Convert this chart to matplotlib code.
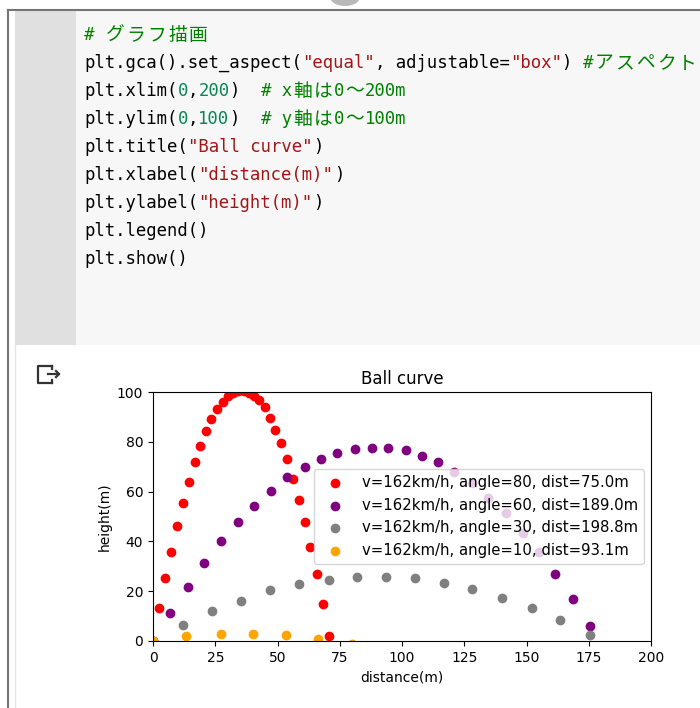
import matplotlib
matplotlib.use("Agg")
import matplotlib.pyplot as plt
from matplotlib.patches import Rectangle, Ellipse
from matplotlib.lines import Line2D

W, H = 700, 708

# --- 打球の軌跡 ---
red_x = [0, 2.5, 4.9, 7.2, 9.6, 12.2, 14.5, 16.8, 19.0, 21.1, 23.4, 25.7, 28.0, 30.0,
         32.1, 34.3, 36.4, 38.6, 40.7, 42.7, 44.9, 47.1, 49.1, 51.5, 53.9, 56.2, 58.6,
         61.0, 63.2, 65.7, 68.2, 70.6]
red_y = [0, 13.1, 25.2, 35.8, 46.0, 55.5, 64.0, 71.7, 78.4, 84.4, 89.1, 93.1, 96.1, 98.3,
         99.6, 100.3, 100.4, 99.6, 98.4, 96.7, 93.8, 89.7, 84.7, 79.6, 73.0, 65.2, 56.6,
         47.9, 37.7, 26.8, 14.9, 1.9]

purple_x = [0, 6.8, 13.9, 20.6, 27.2, 34.0, 40.7, 47.3, 53.9, 61.0, 67.5, 74.0, 81.1,
            87.8, 94.4, 101.6, 108.2, 114.6, 121.0, 128.0, 134.7, 141.6, 148.5, 154.9,
            161.6, 168.8, 175.5]
purple_y = [0, 11.3, 21.5, 31.2, 40.1, 47.9, 54.4, 60.4, 65.7, 69.9, 73.0, 75.5, 77.2,
            77.7, 77.7, 76.6, 74.2, 71.9, 67.9, 63.5, 57.4, 51.6, 43.5, 35.9, 26.9, 16.7, 6.0]

gray_x = [0, 12.2, 23.6, 35.3, 46.9, 58.5, 70.5, 82.0, 93.7, 105.2, 116.9, 128.2, 140.2,
          152.2, 163.6, 175.5]
gray_y = [0, 6.6, 12.0, 16.1, 20.3, 22.7, 24.5, 25.8, 25.7, 25.2, 23.3, 20.8, 17.3, 13.1,
          8.3, 2.3]

orange_x = [0, 13.3, 27.2, 40.0, 53.3, 66.4, 79.8]
orange_y = [0, 1.9, 3.0, 3.0, 2.3, 1.0, -1.2]

labels = ["v=162km/h, angle=80, dist=75.0m",
          "v=162km/h, angle=60, dist=189.0m",
          "v=162km/h, angle=30, dist=198.8m",
          "v=162km/h, angle=10, dist=93.1m"]
colors = ["red", "purple", "gray", "orange"]

# --- ノートブックのコードセル ---
C_TXT = "#000000"
C_STR = "#a31515"
C_NUM = "#098658"
C_COM = "#008000"
code_lines = [
    [("# グラフ描画", C_COM)],
    [("plt.gca().set_aspect(", C_TXT), ('"equal"', C_STR), (", adjustable=", C_TXT),
     ('"box"', C_STR), (") ", C_TXT), ("#アスペクト", C_COM)],
    [("plt.xlim(", C_TXT), ("0", C_NUM), (",", C_TXT), ("200", C_NUM), (")  ", C_TXT),
     ("# x軸は0〜200m", C_COM)],
    [("plt.ylim(", C_TXT), ("0", C_NUM), (",", C_TXT), ("100", C_NUM), (")  ", C_TXT),
     ("# y軸は0〜100m", C_COM)],
    [("plt.title(", C_TXT), ('"Ball curve"', C_STR), (")", C_TXT)],
    [("plt.xlabel(", C_TXT), ('"distance(m)"', C_STR), (")", C_TXT)],
    [("plt.ylabel(", C_TXT), ('"height(m)"', C_STR), (")", C_TXT)],
    [("plt.legend()", C_TXT)],
    [("plt.show()", C_TXT)],
]


def fx(x):
    return x / W


def fy(y):
    return 1 - y / H


fig = plt.figure(figsize=(W / 100, H / 100), dpi=100)
fig.patch.set_facecolor("white")

# 背景 (セル枠, ガター, コード領域)
fig.add_artist(Rectangle((fx(15), fy(345)), fx(61), (335) / H, transform=fig.transFigure,
                         facecolor="#e0e0e0", edgecolor="none"))
fig.add_artist(Rectangle((fx(76), fy(345)), fx(624), (335) / H, transform=fig.transFigure,
                         facecolor="#f7f7f7", edgecolor="none"))
fig.add_artist(Line2D([fx(8), fx(700)], [fy(10), fy(10)], transform=fig.transFigure,
                      color="#757575", lw=1.5))
fig.add_artist(Line2D([fx(8), fx(8)], [fy(10), fy(708)], transform=fig.transFigure,
                      color="#757575", lw=1.5))
fig.add_artist(Line2D([fx(15), fx(15)], [fy(345), fy(708)], transform=fig.transFigure,
                      color="#e6e6e6", lw=1.0))
fig.add_artist(Ellipse((fx(345), fy(-3)), fx(30), 18 / H, transform=fig.transFigure,
                       facecolor="#b8b8b8", edgecolor="none"))

# コード文字列 (等幅の桁に合わせて配置)
X0, Y0, LH, CW = 84, 35, 28, 10.4
for row, parts in enumerate(code_lines):
    y = fy(Y0 + row * LH)
    col = 0
    for txt, color in parts:
        buf, start = "", col
        for ch in txt:
            if ord(ch) < 128:
                if not buf:
                    start = col
                buf += ch
                col += 1
            else:
                if buf:
                    fig.text(fx(X0 + start * CW), y, buf, color=color, fontsize=12.4,
                             family="DejaVu Sans Mono", va="center", ha="left")
                    buf = ""
                fig.text(fx(X0 + (col + 1) * CW), y, ch, color=color, fontsize=13.5,
                         family="Noto Sans CJK JP", va="center", ha="center")
                col += 2
        if buf:
            fig.text(fx(X0 + start * CW), y, buf, color=color, fontsize=12.4,
                     family="DejaVu Sans Mono", va="center", ha="left")

# 出力アイコン
icon = dict(transform=fig.transFigure, color="#333333", lw=1.6)
fig.add_artist(Line2D([fx(52), fx(38), fx(38), fx(52)],
                      [fy(366), fy(366), fy(383), fy(383)], **icon))
fig.add_artist(Line2D([fx(52), fx(52)], [fy(366), fy(369)], **icon))
fig.add_artist(Line2D([fx(52), fx(52)], [fy(380), fy(383)], **icon))
fig.add_artist(Line2D([fx(48), fx(59)], [fy(374), fy(374)], **icon))
fig.add_artist(Line2D([fx(56), fx(59), fx(56)], [fy(371), fy(374), fy(377)], **icon))

# グラフ描画
ax = fig.add_axes([fx(153), (H - 641) / H, 498 / W, 249 / H])
series = [(red_x, red_y), (purple_x, purple_y), (gray_x, gray_y), (orange_x, orange_y)]
for (xs, ys), c, lab in zip(series, colors, labels):
    ax.scatter(xs, ys, color=c, label=lab)
ax.set_xlim(0, 200)
ax.set_ylim(0, 100)
ax.set_title("Ball curve")
ax.set_xlabel("distance(m)")
ax.set_ylabel("height(m)")
ax.legend(loc="center right", fontsize=10.7)

fig.savefig("out.png", dpi=100)
